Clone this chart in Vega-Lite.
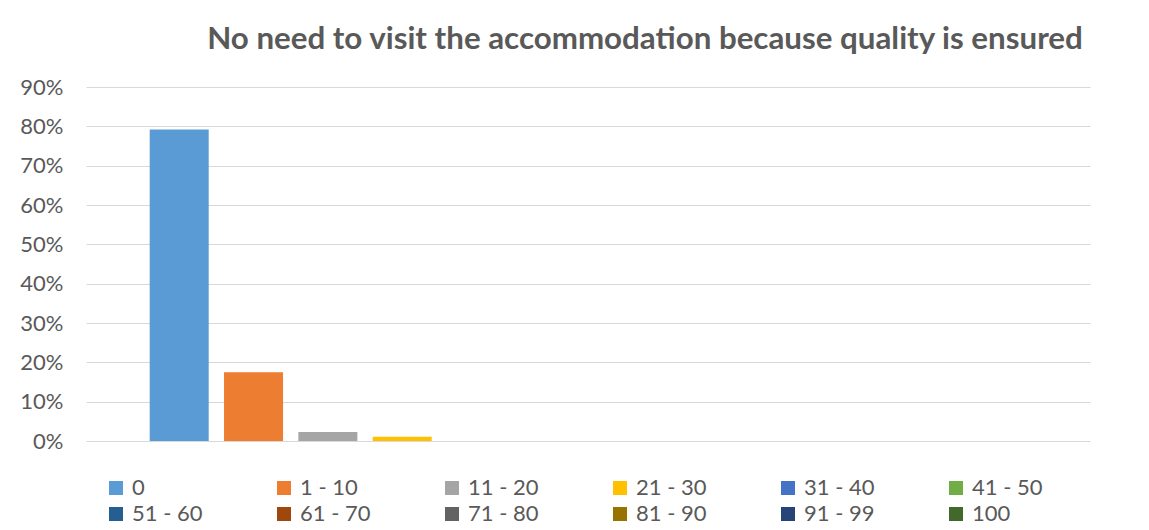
{
  "$schema": "https://vega.github.io/schema/vega-lite/v6.json",
  "width": 1004,
  "height": 354,
  "autosize": {"type": "none"},
  "padding": {"left": 86, "top": 87, "right": 59, "bottom": 89},
  "background": "white",
  "config": {
    "view": {"stroke": null},
    "font": "Lato"
  },
  "title": {
    "text": "No need to visit the accommodation because quality is ensured",
    "font": "Lato",
    "fontSize": 31.3,
    "fontWeight": "bold",
    "color": "#595959",
    "anchor": "middle",
    "frame": "group",
    "dx": 57,
    "offset": 21
  },
  "data": {
    "values": [
      {"range": "0", "share": 0.792},
      {"range": "1 - 10", "share": 0.175},
      {"range": "11 - 20", "share": 0.023},
      {"range": "21 - 30", "share": 0.011},
      {"range": "31 - 40", "share": 0},
      {"range": "41 - 50", "share": 0},
      {"range": "51 - 60", "share": 0},
      {"range": "61 - 70", "share": 0},
      {"range": "71 - 80", "share": 0},
      {"range": "81 - 90", "share": 0},
      {"range": "91 - 99", "share": 0},
      {"range": "100", "share": 0}
    ]
  },
  "mark": {"type": "bar", "strokeWidth": 0},
  "encoding": {
    "x": {
      "field": "range",
      "type": "nominal",
      "sort": null,
      "scale": {"paddingInner": 0.206, "paddingOuter": 0.857},
      "axis": null
    },
    "y": {
      "field": "share",
      "type": "quantitative",
      "scale": {"domain": [0, 0.9], "nice": false, "zero": true},
      "axis": {
        "title": null,
        "format": ".0%",
        "values": [0, 0.1, 0.2, 0.3, 0.4, 0.5, 0.6, 0.7, 0.8, 0.9],
        "domain": false,
        "ticks": false,
        "grid": true,
        "gridColor": "#D9D9D9",
        "gridWidth": 1.2,
        "labelPadding": 23,
        "labelFont": "Lato",
        "labelFontSize": 22,
        "labelColor": "#595959"
      }
    },
    "color": {
      "field": "range",
      "type": "nominal",
      "scale": {
        "domain": ["0", "1 - 10", "11 - 20", "21 - 30", "31 - 40", "41 - 50", "51 - 60", "61 - 70", "71 - 80", "81 - 90", "91 - 99", "100"],
        "range": ["#5B9BD5", "#ED7D31", "#A5A5A5", "#FFC000", "#4472C4", "#70AD47", "#255E91", "#9E480E", "#636363", "#997300", "#264478", "#43682B"]
      },
      "legend": {
        "title": null,
        "orient": "none",
        "legendX": 19,
        "legendY": 390,
        "padding": 0,
        "direction": "horizontal",
        "columns": 6,
        "gridAlign": "all",
        "columnPadding": 70,
        "rowPadding": 4,
        "symbolType": "square",
        "symbolSize": 196,
        "symbolStrokeWidth": 0,
        "labelOffset": 5,
        "labelFont": "Lato",
        "labelFontSize": 22,
        "labelColor": "#595959"
      }
    }
  }
}
